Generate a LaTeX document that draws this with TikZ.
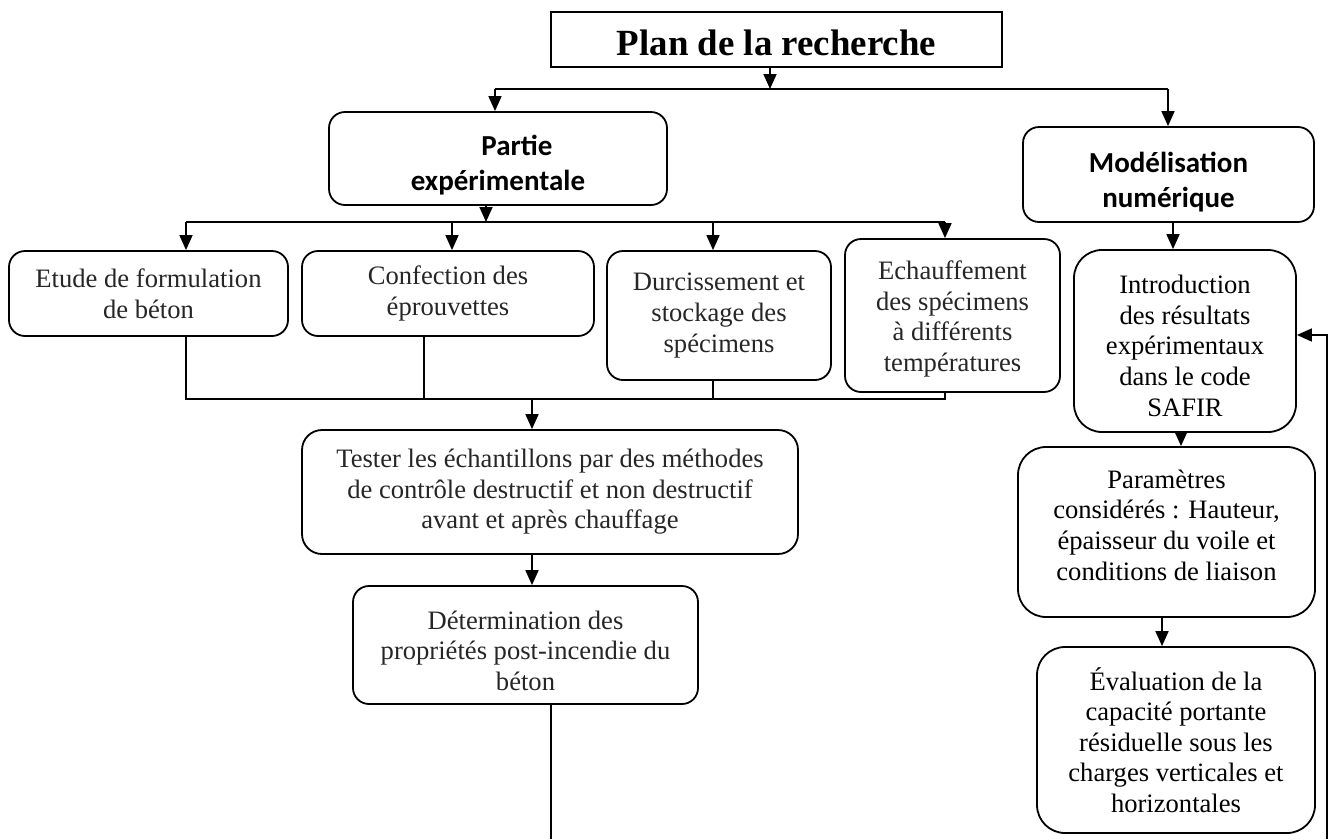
\documentclass[tikz,border=0pt]{standalone}
\usepackage{fontspec}
\setmainfont{Liberation Serif}
\newfontfamily\calib{Carlito}
\usetikzlibrary{arrows.meta}
\begin{document}
\begin{tikzpicture}[x=1pt,y=-1pt,
  box/.style={draw, line width=1.8pt, rounded corners=16pt, inner sep=0pt, align=center, text=black!85, font=\fontsize{26.6pt}{30.6pt}\selectfont},
  bigbox/.style={box, rounded corners=28pt, text=black},
  hbox/.style={box, text=black, font=\calib\bfseries\fontsize{29pt}{35pt}\selectfont},
  conn/.style={line width=1.7pt},
  arr/.style={conn, -{Triangle[length=15pt,width=13pt]}},
]
\useasboundingbox (0,0) rectangle (1333,839);
% nodes
\node[draw, line width=1.8pt, minimum width=451pt, minimum height=55pt, inner sep=0pt,
      font=\bfseries\fontsize{36.9pt}{40pt}\selectfont] (title) at (776.5,39.5) {\rule{0pt}{33pt}Plan de la recherche};
\node[hbox, minimum width=338pt, minimum height=93pt] (partie) at (498,158.5) {\rule{0pt}{34pt}\hspace*{38pt}Partie\\expérimentale};
\node[hbox, minimum width=291pt, minimum height=95pt] (model) at (1168.5,174.5) {\rule{0pt}{36pt}Modélisation\\numérique};
\node[box, minimum width=279pt, minimum height=85pt] (etude) at (148.5,293.5) {Etude de formulation\\de béton};
\node[box, minimum width=292pt, minimum height=85pt] (confection) at (448,293.5) {Confection des\\éprouvettes};
\node[box, minimum width=224pt, minimum height=129pt] (durc) at (719,315.5) {Durcissement et\\stockage des\\spécimens};
\node[box, minimum width=215pt, minimum height=153pt] (echauf) at (952.5,315.5) {\rule{0pt}{26pt}Echauffement\\des spécimens\\à différents\\températures};
\node[box, rounded corners=20pt, minimum width=496pt, minimum height=124pt] (tester) at (550,492) {Tester les échantillons par des méthodes\\de contrôle destructif et non destructif\\avant et après chauffage};
\node[box, minimum width=345pt, minimum height=118pt] (determ) at (525.5,645) {\rule{0pt}{30pt}Détermination des\\propriétés post-incendie du\\béton};
\node[bigbox, minimum width=222pt, minimum height=182pt] (intro) at (1185,341) {\rule{0pt}{28pt}Introduction\\des résultats\\expérimentaux\\dans le code\\SAFIR};
\node[bigbox, minimum width=297pt, minimum height=170pt] (param) at (1166.5,532) {Paramètres\\considérés : Hauteur,\\épaisseur du voile et\\conditions de liaison\rule[-14pt]{0pt}{0pt}};
\node[bigbox, minimum width=278pt, minimum height=186pt] (eval) at (1176,740) {Évaluation de la\\capacité portante\\résiduelle sous les\\charges verticales et\\horizontales};
% bus 1
\coordinate (b1l) at (495,89);
\coordinate (b1m) at (770,89);
\coordinate (b1r) at (1168,89);
\draw[arr] (title.south -| b1m) -- (b1m);
\draw[conn] (b1l) -- (b1r);
\draw[arr] (b1l) -- (partie.north -| b1l);
\draw[arr] (b1r) -- (model.north -| b1r);
% bus 2
\coordinate (b2a) at (186,222);
\coordinate (b2b) at (452,222);
\coordinate (b2p) at (486,222);
\coordinate (b2c) at (713,222);
\coordinate (b2d) at (945,222);
\draw[arr] (partie.south -| b2p) -- (b2p);
\draw[conn] (b2a) -- (b2d);
\draw[arr] (b2a) -- (etude.north -| b2a);
\draw[arr] (b2b) -- (confection.north -| b2b);
\draw[arr] (b2c) -- (durc.north -| b2c);
\draw[arr] (b2d) -- (echauf.north -| b2d);
% bus 3
\coordinate (b3a) at (186,399);
\coordinate (b3b) at (424,399);
\coordinate (b3t) at (532,399);
\coordinate (b3c) at (713,399);
\coordinate (b3d) at (945,399);
\draw[conn] (etude.south -| b3a) -- (b3a) -- (b3d) -- (echauf.south -| b3d);
\draw[conn] (confection.south -| b3b) -- (b3b);
\draw[conn] (durc.south -| b3c) -- (b3c);
\draw[arr] (b3t) -- (tester.north -| b3t);
\draw[arr] (tester.south -| b3t) -- (determ.north -| b3t);
\coordinate (bot) at (551,839);
\draw[conn] (determ.south -| bot) -- (bot);
% right column
\coordinate (rm) at (1173,0);
\coordinate (ri) at (1181,0);
\coordinate (rp) at (1162,0);
\draw[arr] (model.south -| rm) -- (intro.north -| rm);
\draw[arr] (intro.south -| ri) -- (param.north -| ri);
\draw[arr] (param.south -| rp) -- (eval.north -| rp);
\coordinate (fb0) at (1327,839);
\coordinate (fb1) at (1327,335);
\draw[arr] (fb0) -- (fb1) -- (intro.east |- fb1);
\end{tikzpicture}
\end{document}
